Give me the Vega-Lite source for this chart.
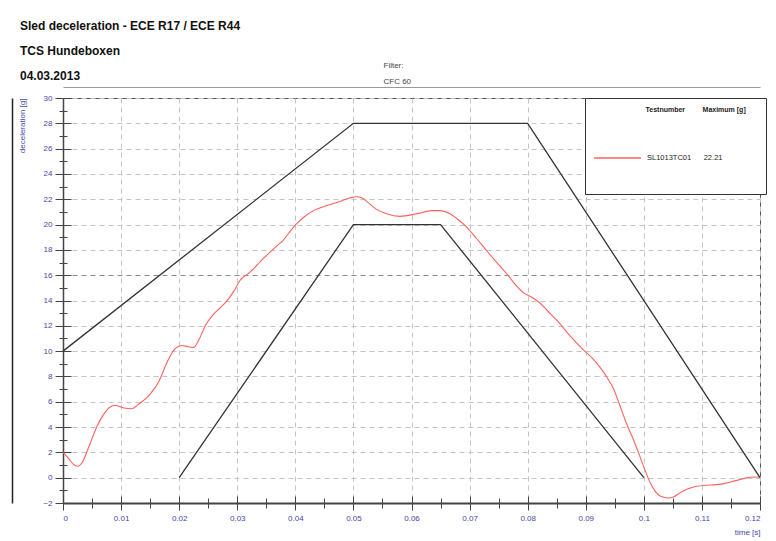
{
  "$schema": "https://vega.github.io/schema/vega-lite/v6.json",
  "width": 697,
  "height": 405,
  "autosize": {"type": "none"},
  "padding": {"left": 63, "top": 98, "right": 16, "bottom": 38},
  "background": "white",
  "config": {
    "font": "Liberation Sans",
    "view": {"stroke": "#555", "strokeWidth": 1}
  },
  "title": {
    "text": ["Sled deceleration - ECE R17 / ECE R44", "TCS Hundeboxen", "04.03.2013"],
    "anchor": "start",
    "frame": "group",
    "dx": -43,
    "offset": -34,
    "fontSize": 12,
    "fontWeight": "bold",
    "lineHeight": 25,
    "baseline": "bottom",
    "color": "#111"
  },
  "datasets": {
    "curve": [
      {"series": "SL1013TC01", "t": 0, "g": 2.0},
      {"series": "SL1013TC01", "t": 0.001, "g": 1.5},
      {"series": "SL1013TC01", "t": 0.0018, "g": 1.05},
      {"series": "SL1013TC01", "t": 0.0025, "g": 0.9},
      {"series": "SL1013TC01", "t": 0.0033, "g": 1.2},
      {"series": "SL1013TC01", "t": 0.0045, "g": 2.5},
      {"series": "SL1013TC01", "t": 0.0058, "g": 4.0},
      {"series": "SL1013TC01", "t": 0.007, "g": 5.0},
      {"series": "SL1013TC01", "t": 0.0082, "g": 5.6},
      {"series": "SL1013TC01", "t": 0.009, "g": 5.7},
      {"series": "SL1013TC01", "t": 0.0105, "g": 5.5},
      {"series": "SL1013TC01", "t": 0.0118, "g": 5.45},
      {"series": "SL1013TC01", "t": 0.013, "g": 5.8},
      {"series": "SL1013TC01", "t": 0.015, "g": 6.6},
      {"series": "SL1013TC01", "t": 0.0165, "g": 7.6},
      {"series": "SL1013TC01", "t": 0.018, "g": 9.2},
      {"series": "SL1013TC01", "t": 0.0193, "g": 10.2},
      {"series": "SL1013TC01", "t": 0.0205, "g": 10.45},
      {"series": "SL1013TC01", "t": 0.0215, "g": 10.35},
      {"series": "SL1013TC01", "t": 0.0225, "g": 10.3},
      {"series": "SL1013TC01", "t": 0.0235, "g": 11.0},
      {"series": "SL1013TC01", "t": 0.0245, "g": 12.0},
      {"series": "SL1013TC01", "t": 0.0259, "g": 12.9},
      {"series": "SL1013TC01", "t": 0.027, "g": 13.4},
      {"series": "SL1013TC01", "t": 0.0282, "g": 13.95},
      {"series": "SL1013TC01", "t": 0.0295, "g": 14.8},
      {"series": "SL1013TC01", "t": 0.0305, "g": 15.6},
      {"series": "SL1013TC01", "t": 0.0318, "g": 16.1},
      {"series": "SL1013TC01", "t": 0.0328, "g": 16.5},
      {"series": "SL1013TC01", "t": 0.034, "g": 17.1},
      {"series": "SL1013TC01", "t": 0.0356, "g": 17.8},
      {"series": "SL1013TC01", "t": 0.0368, "g": 18.3},
      {"series": "SL1013TC01", "t": 0.0379, "g": 18.75},
      {"series": "SL1013TC01", "t": 0.039, "g": 19.4},
      {"series": "SL1013TC01", "t": 0.0402, "g": 20.05},
      {"series": "SL1013TC01", "t": 0.0415, "g": 20.6},
      {"series": "SL1013TC01", "t": 0.0431, "g": 21.1},
      {"series": "SL1013TC01", "t": 0.0454, "g": 21.5},
      {"series": "SL1013TC01", "t": 0.0475, "g": 21.8},
      {"series": "SL1013TC01", "t": 0.0494, "g": 22.1},
      {"series": "SL1013TC01", "t": 0.0505, "g": 22.2},
      {"series": "SL1013TC01", "t": 0.0515, "g": 22.1},
      {"series": "SL1013TC01", "t": 0.0525, "g": 21.75},
      {"series": "SL1013TC01", "t": 0.054, "g": 21.2},
      {"series": "SL1013TC01", "t": 0.0557, "g": 20.85},
      {"series": "SL1013TC01", "t": 0.058, "g": 20.65},
      {"series": "SL1013TC01", "t": 0.0609, "g": 20.85},
      {"series": "SL1013TC01", "t": 0.0635, "g": 21.1},
      {"series": "SL1013TC01", "t": 0.0648, "g": 21.1},
      {"series": "SL1013TC01", "t": 0.0666, "g": 20.85},
      {"series": "SL1013TC01", "t": 0.068, "g": 20.4},
      {"series": "SL1013TC01", "t": 0.0695, "g": 19.8},
      {"series": "SL1013TC01", "t": 0.0712, "g": 18.9},
      {"series": "SL1013TC01", "t": 0.0729, "g": 17.95},
      {"series": "SL1013TC01", "t": 0.0747, "g": 17.0},
      {"series": "SL1013TC01", "t": 0.0764, "g": 16.1},
      {"series": "SL1013TC01", "t": 0.078, "g": 15.2},
      {"series": "SL1013TC01", "t": 0.0793, "g": 14.6},
      {"series": "SL1013TC01", "t": 0.0807, "g": 14.25},
      {"series": "SL1013TC01", "t": 0.0821, "g": 13.8},
      {"series": "SL1013TC01", "t": 0.0835, "g": 13.15},
      {"series": "SL1013TC01", "t": 0.085, "g": 12.45},
      {"series": "SL1013TC01", "t": 0.0873, "g": 11.2},
      {"series": "SL1013TC01", "t": 0.0896, "g": 10.1},
      {"series": "SL1013TC01", "t": 0.0912, "g": 9.4},
      {"series": "SL1013TC01", "t": 0.0925, "g": 8.7},
      {"series": "SL1013TC01", "t": 0.0937, "g": 7.9},
      {"series": "SL1013TC01", "t": 0.0947, "g": 7.1},
      {"series": "SL1013TC01", "t": 0.0958, "g": 5.8},
      {"series": "SL1013TC01", "t": 0.097, "g": 4.3},
      {"series": "SL1013TC01", "t": 0.0983, "g": 2.9},
      {"series": "SL1013TC01", "t": 0.0993, "g": 1.7},
      {"series": "SL1013TC01", "t": 0.1002, "g": 0.6},
      {"series": "SL1013TC01", "t": 0.1011, "g": -0.4},
      {"series": "SL1013TC01", "t": 0.102, "g": -1.1},
      {"series": "SL1013TC01", "t": 0.1028, "g": -1.45},
      {"series": "SL1013TC01", "t": 0.1042, "g": -1.6},
      {"series": "SL1013TC01", "t": 0.1052, "g": -1.5},
      {"series": "SL1013TC01", "t": 0.1062, "g": -1.2},
      {"series": "SL1013TC01", "t": 0.1075, "g": -0.9},
      {"series": "SL1013TC01", "t": 0.1091, "g": -0.68},
      {"series": "SL1013TC01", "t": 0.1108, "g": -0.6},
      {"series": "SL1013TC01", "t": 0.1125, "g": -0.55},
      {"series": "SL1013TC01", "t": 0.114, "g": -0.45},
      {"series": "SL1013TC01", "t": 0.1154, "g": -0.29},
      {"series": "SL1013TC01", "t": 0.117, "g": -0.1},
      {"series": "SL1013TC01", "t": 0.1183, "g": 0.03},
      {"series": "SL1013TC01", "t": 0.12, "g": 0.05}
    ],
    "corridor": [
      {"bound": "upper", "t": 0, "g": 10},
      {"bound": "upper", "t": 0.05, "g": 28},
      {"bound": "upper", "t": 0.08, "g": 28},
      {"bound": "upper", "t": 0.12, "g": 0},
      {"bound": "lower", "t": 0.02, "g": 0},
      {"bound": "lower", "t": 0.05, "g": 20},
      {"bound": "lower", "t": 0.065, "g": 20},
      {"bound": "lower", "t": 0.1, "g": 0}
    ]
  },
  "layer": [
    {
      "data": {"name": "curve"},
      "mark": {"type": "line", "interpolate": "monotone", "strokeWidth": 1.1, "clip": true},
      "encoding": {
        "x": {
          "field": "t", "type": "quantitative",
          "scale": {"domain": [0, 0.12], "nice": false, "zero": false},
          "axis": {
            "orient": "bottom",
            "values": [0, 0.005, 0.01, 0.015, 0.02, 0.025, 0.03, 0.035, 0.04, 0.045, 0.05, 0.055, 0.06, 0.065, 0.07, 0.075, 0.08, 0.085, 0.09, 0.095, 0.1, 0.105, 0.11, 0.115, 0.12],
            "labelExpr": "abs(datum.value * 100 - round(datum.value * 100)) < 0.001 ? format(datum.value, '') : ''",
            "labelColor": "#4646a8", "labelFontSize": 8, "labelPadding": 4,
            "domainColor": "#444", "domainWidth": 2,
            "tickColor": "#444", "tickWidth": 1,
            "tickSize": {"condition": {"test": "abs(datum.value * 100 - round(datum.value * 100)) < 0.001", "value": 7}, "value": 5},
            "grid": true,
            "gridDash": [5, 4],
            "gridColor": "#c4c4c4",
            "gridOpacity": {"condition": {"test": "abs(datum.value * 100 - round(datum.value * 100)) < 0.001", "value": 1}, "value": 0},
            "title": "time [s]",
            "titleAnchor": "end",
            "titleColor": "#4646a8", "titleFontSize": 8, "titleFontWeight": "normal",
            "titlePadding": 6
          }
        },
        "y": {
          "field": "g", "type": "quantitative",
          "scale": {"domain": [-2, 30], "nice": false, "zero": false},
          "axis": {
            "orient": "left",
            "values": [-2, -1, 0, 1, 2, 3, 4, 5, 6, 7, 8, 9, 10, 11, 12, 13, 14, 15, 16, 17, 18, 19, 20, 21, 22, 23, 24, 25, 26, 27, 28, 29, 30],
            "labelExpr": "datum.value % 2 === 0 ? datum.label : ''",
            "labelColor": "#4646a8", "labelFontSize": 8, "labelPadding": 3,
            "domainColor": "#444", "domainWidth": 1.5,
            "tickColor": "#444", "tickWidth": 1,
            "tickSize": {"condition": {"test": "datum.value % 2 === 0", "value": 8}, "value": 4},
            "grid": true,
            "gridDash": [5, 4],
            "gridColor": {"condition": {"test": "datum.value === 16", "value": "#8a8a8a"}, "value": "#c4c4c4"},
            "gridOpacity": {"condition": {"test": "datum.value % 2 === 0", "value": 1}, "value": 0},
            "title": "deceleration [g]",
            "titleAnchor": "end",
            "titleColor": "#4646a8", "titleFontSize": 8, "titleFontWeight": "normal",
            "titlePadding": 16
          }
        },
        "color": {
          "field": "series", "type": "nominal",
          "scale": {"range": ["#ff5f5f"]},
          "legend": {
            "orient": "none", "legendX": 522, "legendY": 0,
            "title": "\u200b\u00a0\u00a0\u00a0\u00a0\u00a0\u00a0\u00a0\u00a0\u00a0\u00a0\u00a0\u00a0\u00a0\u00a0\u00a0\u00a0\u00a0\u00a0\u00a0\u00a0\u00a0\u00a0\u00a0\u00a0\u00a0\u00a0\u00a0Testnumber\u00a0\u00a0\u00a0\u00a0\u00a0\u00a0\u00a0\u00a0\u00a0Maximum [g]",
            "titleFontSize": 7, "titleFontWeight": "bold", "titleColor": "#222",
            "titleAnchor": "start", "titlePadding": 17,
            "padding": 8,
            "clipHeight": 56,
            "strokeColor": "#333", "fillColor": "white",
            "symbolType": "stroke", "symbolSize": 2200, "symbolStrokeWidth": 1.3,
            "labelExpr": "datum.label + '\u00a0\u00a0\u00a0\u00a0\u00a0\u00a022.21\u00a0\u00a0\u00a0\u00a0\u00a0\u00a0\u00a0\u00a0\u00a0\u00a0\u00a0\u00a0\u00a0\u00a0\u00a0\u00a0\u00a0\u200b'",
            "labelFontSize": 7.5, "labelColor": "#222", "labelOffset": 5, "labelLimit": 400
          }
        }
      }
    },
    {
      "data": {"name": "corridor"},
      "transform": [{"filter": "datum.bound === 'upper'"}],
      "mark": {"type": "line", "color": "#333", "strokeWidth": 1.3},
      "encoding": {
        "x": {
          "field": "t", "type": "quantitative",
          "axis": {
            "orient": "top", "offset": 11,
            "domainColor": "#999", "domainWidth": 1,
            "ticks": false, "labels": false, "grid": false,
            "title": ["Filter:", "CFC 60"],
            "titleX": 320, "titleY": -18,
            "titleAlign": "left", "titleBaseline": "bottom", "titleAngle": 0,
            "titleFontSize": 8, "titleFontWeight": "normal", "titleColor": "#444",
            "titleLineHeight": 16
          }
        },
        "y": {
          "field": "g", "type": "quantitative",
          "axis": {
            "orient": "left",
            "values": [-2, -1, 0, 1, 2, 3, 4, 5, 6, 7, 8, 9, 10, 11, 12, 13, 14, 15, 16, 17, 18, 19, 20, 21, 22, 23, 24, 25, 26, 27, 28, 29, 30],
            "labels": false, "domain": false, "grid": false, "title": null,
            "tickColor": "#444",
            "tickSize": {"condition": {"test": "datum.value % 2 === 0", "value": -8}, "value": -4}
          }
        }
      }
    },
    {
      "data": {"name": "corridor"},
      "transform": [{"filter": "datum.bound === 'lower'"}],
      "mark": {"type": "line", "color": "#333", "strokeWidth": 1.3},
      "encoding": {
        "x": {
          "field": "t", "type": "quantitative",
          "axis": {
            "orient": "bottom",
            "values": [0, 0.005, 0.01, 0.015, 0.02, 0.025, 0.03, 0.035, 0.04, 0.045, 0.05, 0.055, 0.06, 0.065, 0.07, 0.075, 0.08, 0.085, 0.09, 0.095, 0.1, 0.105, 0.11, 0.115, 0.12],
            "labels": false, "domain": false, "grid": false, "title": null,
            "tickColor": "#444",
            "tickSize": {"condition": {"test": "abs(datum.value * 100 - round(datum.value * 100)) < 0.001", "value": -7}, "value": -5}
          }
        },
        "y": {
          "field": "g", "type": "quantitative",
          "axis": {
            "orient": "left", "offset": 51,
            "labels": false, "ticks": false, "grid": false, "title": null,
            "domainColor": "#222", "domainWidth": 1.5
          }
        }
      }
    }
  ],
  "resolve": {"axis": {"x": "independent", "y": "independent"}}
}
